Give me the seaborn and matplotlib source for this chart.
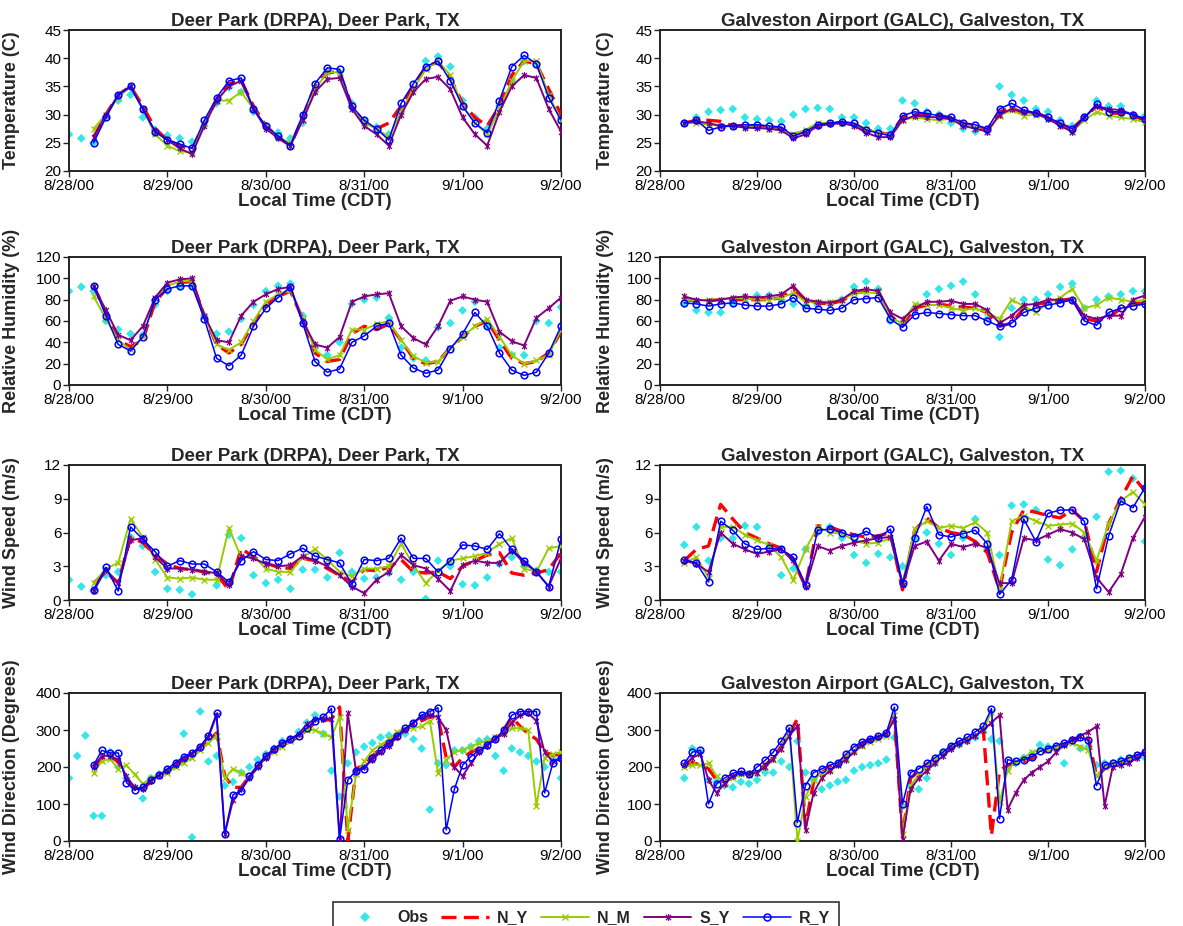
import numpy as np
import matplotlib
matplotlib.use("Agg")
import matplotlib.pyplot as plt
from matplotlib.path import Path
from matplotlib.lines import Line2D
import seaborn as sns

nan = np.nan

# ---------------- data ----------------
hours3 = list(range(0, 121, 3))   # hours after 8/28/00 00:00 (3-hourly)
hours2 = list(range(0, 121, 2))   # 2-hourly (wind direction)
day_ticks = [0, 24, 48, 72, 96, 120]
day_labels = ["8/28/00", "8/29/00", "8/30/00", "8/31/00", "9/1/00", "9/2/00"]
series_names = ["Obs", "N_Y", "N_M", "S_Y", "R_Y"]

# Deer Park temperature (C)
drpa_t_obs = [26.5,25.8,25.0,29.5,32.5,33.5,29.5,27.3,26.3,25.8, 25.2,28.0,32.0,34.8,34.0,30.5,28.0,26.8,25.8,28.5, 34.0,37.5,37.5,32.0,29.0,27.8,26.5,30.5,34.5,39.5, 40.3,38.5,32.5,29.5,27.5,31.5,36.0,39.5,39.0,34.0, 29.5]
drpa_t_ny = [nan,nan,26.0,30.0,33.5,35.0,31.5,27.5,25.5,24.5, 23.8,28.5,32.5,35.5,36.0,31.5,28.0,26.0,24.5,29.5, 35.0,37.5,37.5,31.5,28.5,27.5,28.5,31.5,35.0,38.5, 39.3,36.5,32.0,29.5,28.0,31.5,37.0,39.5,39.0,34.5, 30.0]
drpa_t_nm = [nan,nan,27.5,30.0,33.0,35.0,31.0,26.5,24.5,23.5, 23.3,28.5,32.5,32.5,34.0,31.0,28.0,26.0,25.0,29.0, 34.5,37.5,37.5,31.0,28.5,27.5,26.0,30.5,34.5,38.0, 39.5,37.0,31.5,28.5,26.5,31.0,36.0,39.5,39.5,33.5, 29.0]
drpa_t_sy = [nan,nan,26.0,30.0,33.5,35.0,31.0,27.0,25.5,24.0, 23.0,28.0,32.5,35.0,36.0,31.0,27.5,25.8,24.5,29.0, 34.0,36.3,36.5,31.0,28.0,26.5,24.5,30.0,34.0,36.3, 36.7,34.5,29.5,26.5,24.5,30.5,35.0,37.0,36.5,31.0, 27.0]
drpa_t_ry = [nan,nan,25.0,29.5,33.5,35.0,31.0,27.0,25.5,24.8, 24.0,29.0,33.0,36.0,36.5,31.0,28.0,26.2,24.5,30.0, 35.5,38.3,38.0,31.5,29.0,27.5,25.5,32.0,35.5,38.5, 39.5,36.0,31.5,28.5,26.8,32.5,38.5,40.5,39.0,33.0, 29.0]

# Galveston temperature (C)
galc_t_obs = [nan,nan,28.5,29.5,30.5,30.8,31.0,29.5,29.2,29.0, 28.8,30.0,31.0,31.2,31.0,29.5,29.5,28.5,27.5,27.5, 32.5,32.0,30.5,30.0,28.5,27.5,27.0,27.0,35.0,33.5, 32.5,31.0,30.5,29.0,28.0,29.5,32.5,31.5,31.5,30.0, 29.8]
galc_t_ny = [nan,nan,28.5,29.0,29.0,28.8,28.0,28.0,28.0,27.8, 27.5,26.5,27.0,28.2,28.5,28.6,28.3,27.3,26.8,26.5, 29.5,30.0,30.0,29.8,29.5,28.5,28.0,27.3,30.5,31.2, 30.2,30.3,29.5,28.3,27.5,29.5,31.5,30.3,30.2,29.8, 29.0]
galc_t_nm = [nan,nan,28.5,28.5,28.2,28.0,28.0,27.8,27.8,27.5, 27.3,26.5,27.3,28.5,28.5,28.5,28.2,27.5,26.8,26.5, 29.0,29.5,29.2,29.0,29.3,28.3,27.7,27.0,29.8,30.8, 29.8,30.0,29.3,28.0,27.0,29.0,30.5,29.8,29.5,29.2, 28.6]
galc_t_sy = [nan,nan,28.5,28.8,28.5,28.0,28.0,27.7,27.6,27.5, 27.2,25.8,26.5,28.0,28.3,28.5,28.0,26.8,26.0,26.0, 29.0,29.8,29.6,29.5,29.2,28.0,27.5,27.0,30.0,31.0, 30.5,30.2,29.3,28.0,27.0,29.5,31.5,31.0,30.8,30.0, 29.0]
galc_t_ry = [nan,nan,28.5,29.0,27.2,27.8,28.0,28.2,28.2,28.0, 27.8,26.2,27.0,28.2,28.5,28.7,28.5,27.3,26.7,26.3, 29.8,30.5,30.2,29.8,29.5,28.5,28.2,27.5,31.0,32.0, 30.8,30.3,29.5,28.5,27.5,29.5,31.8,30.5,30.5,30.0, 29.3]

# Deer Park relative humidity (%)
drpa_rh_obs = [88,92,88,60,52,48,47,75,88,92, 93,65,48,50,62,75,88,93,95,65, 35,28,40,76,80,82,63,35,25,23, 54,58,70,78,55,35,28,28,60,58, 73]
drpa_rh_ny = [nan,nan,93,68,42,36,42,78,91,96, 97,65,38,30,38,58,75,83,88,62, 30,22,24,48,55,52,57,42,25,20, 22,35,45,55,60,42,25,20,22,30, 50]
drpa_rh_nm = [nan,nan,83,62,42,33,45,82,93,97, 98,65,38,33,40,60,78,85,89,62, 33,24,28,52,52,57,60,42,27,21, 22,35,45,55,62,45,28,20,23,28, 52]
drpa_rh_sy = [nan,nan,93,70,47,42,55,82,96,99, 100,65,42,40,65,78,85,90,92,60, 38,35,45,78,83,85,86,55,44,38, 55,79,83,80,78,50,41,37,63,72, 82]
drpa_rh_ry = [nan,nan,93,65,38,32,45,80,90,93, 93,62,25,18,28,55,72,82,92,58, 22,12,15,40,46,55,58,28,16,11, 14,34,48,68,55,30,14,9,12,30, 55]

# Galveston relative humidity (%)
galc_rh_obs = [nan,nan,76,70,68,68,76,82,84,84, 80,76,74,75,76,80,92,97,90,60, 58,70,85,90,93,97,85,62,45,72, 80,80,85,92,95,72,80,83,85,88, 88]
galc_rh_ny = [nan,nan,80,79,79,80,80,80,80,80, 82,90,80,77,76,79,86,88,88,65, 56,72,75,76,74,73,72,68,55,58, 72,76,77,79,81,62,60,63,72,76, 77]
galc_rh_nm = [nan,nan,80,79,80,80,82,81,80,80, 82,86,78,78,78,80,86,87,86,63, 58,76,75,75,72,70,72,68,62,80, 74,68,77,82,90,72,75,82,80,78, 80]
galc_rh_sy = [nan,nan,83,80,79,80,82,83,82,83, 85,93,80,78,77,80,88,90,88,68, 62,72,78,78,79,76,76,70,58,65, 75,76,80,80,80,65,62,65,65,80, 84]
galc_rh_ry = [nan,nan,77,76,74,76,77,75,74,74, 76,82,72,71,70,72,80,81,82,62, 54,66,68,67,66,65,65,60,55,58, 68,72,75,77,80,60,56,68,72,74, 76]

# Deer Park wind speed (m/s)
drpa_ws_obs = [1.8,1.2,0.8,2.2,2.5,5.6,4.8,2.5,1.0,0.9, 0.5,2.5,1.3,5.8,5.5,2.2,1.5,1.8,1.0,2.7, 2.7,2.0,4.2,2.5,1.9,2.0,2.4,1.8,2.5,0.1, 3.5,3.0,1.4,1.3,2.0,3.2,3.8,3.0,2.6,2.5, 2.5]
drpa_ws_ny = [nan,nan,1.5,2.5,1.5,5.6,5.1,4.0,3.2,2.8, 2.7,2.5,2.3,0.9,4.6,3.8,3.3,2.9,2.8,3.7, 3.5,2.8,2.2,1.6,2.7,2.6,2.9,3.6,2.5,2.4, 2.5,1.9,3.0,3.5,4.0,4.2,2.4,2.2,2.4,2.7, 4.2]
drpa_ws_nm = [nan,nan,1.5,2.8,3.3,7.2,5.6,3.6,2.0,1.9, 2.0,1.8,1.8,6.4,3.8,3.9,2.8,2.5,2.5,3.8, 4.5,3.6,2.5,2.1,2.8,2.8,3.0,5.0,3.1,1.5, 2.6,3.5,3.7,3.9,4.2,5.0,5.5,2.8,2.5,4.6, 4.8]
drpa_ws_sy = [nan,nan,0.8,2.7,1.5,5.3,5.5,3.8,2.8,2.8, 2.7,2.5,2.4,1.3,3.9,3.7,3.2,3.0,3.1,3.9, 3.5,3.0,2.2,1.2,0.6,1.8,2.5,4.0,3.1,2.8, 1.9,0.8,3.1,3.5,3.3,3.3,4.4,3.3,2.5,1.2, 3.7]
drpa_ws_ry = [nan,nan,0.9,2.9,0.8,6.5,5.4,4.3,3.0,3.5, 3.2,3.2,2.5,1.6,3.5,4.3,3.6,3.5,4.1,4.6, 3.9,3.6,3.3,1.4,3.6,3.5,3.7,5.5,3.7,3.7, 2.5,3.5,4.9,4.8,4.5,5.9,4.5,3.5,2.5,1.2, 5.4]

# Galveston wind speed (m/s)
galc_ws_obs = [nan,nan,4.9,6.5,3.5,5.5,5.5,6.6,6.5,4.5, 2.2,2.8,4.5,6.0,6.5,5.5,4.0,3.3,4.1,3.8, 3.0,5.5,6.0,5.0,4.0,5.5,7.2,4.5,4.0,8.4, 8.5,8.0,3.6,3.1,4.5,5.5,7.4,11.4,11.5,10.8, 5.2]
galc_ws_ny = [nan,nan,3.5,4.5,4.8,8.5,7.2,6.0,5.5,5.0, 4.6,3.5,1.2,6.6,6.5,6.1,5.8,5.6,5.7,6.0, 0.9,6.2,7.3,6.4,6.0,5.8,5.2,4.2,0.9,6.0, 8.0,7.8,7.5,7.3,8.0,7.0,2.5,6.8,9.0,11.0, 9.7]
galc_ws_nm = [nan,nan,3.3,3.8,2.0,6.5,6.5,5.8,5.3,4.9, 3.8,1.8,4.5,6.5,6.0,5.9,5.3,5.0,5.1,5.5, 1.5,6.3,7.0,6.4,6.6,6.4,6.9,6.0,1.0,7.0, 7.5,7.0,6.6,6.7,6.8,6.0,3.5,6.8,8.8,9.6, 8.5]
galc_ws_sy = [nan,nan,3.5,3.2,2.5,6.0,5.0,4.5,4.1,4.3, 4.5,3.6,1.2,4.8,4.4,4.8,5.1,5.3,5.5,5.6, 1.3,4.8,5.2,3.5,5.0,4.7,5.0,4.6,1.5,1.5, 5.5,5.3,5.8,6.3,6.0,5.4,2.0,0.7,2.3,5.5, 7.4]
galc_ws_ry = [nan,nan,3.6,3.3,1.6,7.0,6.2,5.0,4.5,4.6, 4.5,3.8,1.3,6.2,6.3,6.0,5.6,6.1,5.5,6.3, 1.5,5.5,8.3,5.8,5.6,5.9,6.2,5.0,0.5,1.8, 7.2,5.2,7.7,8.0,8.0,7.0,1.0,5.7,8.8,8.2, 10.0]

# Deer Park wind direction (degrees), 2-hourly
drpa_wd_obs = [170,230,285,68,68,240,200,170,145,115, 170,180,190,205,290,10,350,215,230,150, 160,185,200,220,235,250,270,275,295,320, 340,290,190,120,210,240,255,265,280,285, 285,290,275,250,85,210,205,245,245,255, 270,275,230,190,250,240,230,215,200,220, 170]
drpa_wd_ny = [nan,nan,nan,200,225,228,215,170,140,142, 160,175,190,205,220,235,250,270,292,175, 145,145,175,200,228,245,258,270,282,300, 320,325,330,362,0,195,205,230,250,265, 285,300,315,325,335,335,225,200,225,240, 250,262,280,300,335,310,290,275,240,232, 235]
drpa_wd_nm = [nan,nan,nan,185,215,222,195,205,180,155, 170,175,185,200,212,225,245,265,285,170, 195,185,175,205,230,240,255,270,285,300, 300,290,280,335,30,180,215,245,260,275, 295,305,305,310,325,185,220,240,245,255, 265,270,280,295,305,305,300,95,225,235, 240]
drpa_wd_sy = [nan,nan,nan,200,230,230,220,175,145,140, 162,178,190,205,222,235,255,280,340,20, 110,140,170,200,225,245,262,275,290,315, 330,330,330,5,345,190,200,220,240,258, 280,300,320,335,340,335,300,200,175,210, 240,258,275,290,320,340,345,325,240,215, 225]
drpa_wd_ry = [nan,nan,nan,205,245,238,238,158,138,145, 165,178,195,212,228,238,255,285,345,20, 125,135,175,205,230,250,265,275,285,305, 325,335,358,5,165,190,195,225,245,265, 285,305,320,340,350,360,30,140,205,228, 245,260,275,300,340,350,350,350,130,210, 225]

# Galveston wind direction (degrees), 2-hourly
galc_wd_obs = [nan,nan,nan,170,250,240,165,160,150,145, 160,155,165,185,185,215,200,270,185,165, 140,150,160,165,190,200,205,210,220,280, 95,150,140,170,210,240,250,260,270,280, 295,275,270,200,210,225,235,260,255,250, 210,270,250,255,205,210,210,220,215,225, 225]
galc_wd_ny = [nan,nan,nan,205,212,205,195,165,160,175, 185,180,190,205,225,255,290,330,40,160, 185,200,210,225,245,262,272,280,290,335, 15,170,190,205,220,235,250,265,275,285, 300,15,190,205,210,215,222,235,245,255, 262,270,275,278,175,195,205,212,222,230, 240]
galc_wd_nm = [nan,nan,nan,200,205,205,210,175,160,170, 180,178,185,200,220,250,305,0,120,165, 185,195,205,225,245,258,268,275,285,340, 20,150,180,200,220,240,258,265,275,285, 300,350,105,190,215,225,240,245,245,252, 260,265,255,245,175,200,210,215,225,232, 240]
galc_wd_sy = [nan,nan,nan,205,225,235,165,130,155,175, 185,180,185,200,222,250,285,310,30,130, 170,190,205,220,240,260,272,280,290,330, 5,140,170,190,210,230,250,262,270,285, 300,320,340,85,130,165,185,200,215,240, 260,275,285,295,310,95,200,205,210,225, 238]
galc_wd_ry = [nan,nan,nan,210,240,245,100,155,170,183, 188,180,200,218,240,270,305,50,150,185, 195,205,212,235,255,268,277,283,292,362, 100,185,195,210,225,240,258,270,280,295, 310,358,60,220,215,220,228,242,250,258, 265,272,280,272,150,205,210,215,225,233, 240]

title_drpa = "Deer Park (DRPA), Deer Park, TX"
title_galc = "Galveston Airport (GALC), Galveston, TX"
xlabel_text = "Local Time (CDT)"

# ---------------- styling ----------------
sns.set_style("ticks")
plt.rcParams["font.family"] = ["Liberation Sans", "DejaVu Sans"]

star = Path([(-1, -1), (1, 1), (-1, 1), (1, -1), (0, -1.35), (0, 1.35)],
            [Path.MOVETO, Path.LINETO, Path.MOVETO, Path.LINETO, Path.MOVETO, Path.LINETO])

c_obs, c_ny, c_nm, c_sy, c_ry = "#33E6E8", "#FF0000", "#99CC00", "#800080", "#0000FF"
styles = {
    "N_Y": dict(color=c_ny, linestyle=(0, (4.5, 2.2)), linewidth=2.4),
    "N_M": dict(color=c_nm, linewidth=1.4, marker="x", markersize=3.8,
                markeredgewidth=1.0, markeredgecolor=c_nm),
    "S_Y": dict(color=c_sy, linewidth=1.4, marker=star, markersize=4.8,
                markeredgewidth=0.9, markeredgecolor=c_sy),
    "R_Y": dict(color=c_ry, linewidth=1.1, marker="o", markersize=4.8,
                markerfacecolor="none", markeredgewidth=1.1, markeredgecolor=c_ry),
}

fig = plt.figure(figsize=(11.83, 9.26), dpi=100)

W, H = 1183.0, 926.0
col_x = [(69, 561), (660, 1145)]
row_y = [(30, 171), (257, 385), (465, 600), (693, 841)]

panels = [
    [(hours3, drpa_t_obs, drpa_t_ny, drpa_t_nm, drpa_t_sy, drpa_t_ry, (20, 45), range(20, 46, 5), "Temperature (C)", title_drpa),
     (hours3, galc_t_obs, galc_t_ny, galc_t_nm, galc_t_sy, galc_t_ry, (20, 45), range(20, 46, 5), "Temperature (C)", title_galc)],
    [(hours3, drpa_rh_obs, drpa_rh_ny, drpa_rh_nm, drpa_rh_sy, drpa_rh_ry, (0, 120), range(0, 121, 20), "Relative Humidity (%)", title_drpa),
     (hours3, galc_rh_obs, galc_rh_ny, galc_rh_nm, galc_rh_sy, galc_rh_ry, (0, 120), range(0, 121, 20), "Relative Humidity (%)", title_galc)],
    [(hours3, drpa_ws_obs, drpa_ws_ny, drpa_ws_nm, drpa_ws_sy, drpa_ws_ry, (0, 12), range(0, 13, 3), "Wind Speed (m/s)", title_drpa),
     (hours3, galc_ws_obs, galc_ws_ny, galc_ws_nm, galc_ws_sy, galc_ws_ry, (0, 12), range(0, 13, 3), "Wind Speed (m/s)", title_galc)],
    [(hours2, drpa_wd_obs, drpa_wd_ny, drpa_wd_nm, drpa_wd_sy, drpa_wd_ry, (0, 400), range(0, 401, 100), "Wind Direction (Degrees)", title_drpa),
     (hours2, galc_wd_obs, galc_wd_ny, galc_wd_nm, galc_wd_sy, galc_wd_ry, (0, 400), range(0, 401, 100), "Wind Direction (Degrees)", title_galc)],
]

for r, row in enumerate(panels):
    for c, spec in enumerate(row):
        hrs, obs, ny, nm, sy, ry, ylim, yticks, ylabel, title = spec
        x0, x1 = col_x[c]
        t, b = row_y[r]
        ax = fig.add_axes([x0 / W, 1 - b / H, (x1 - x0) / W, (b - t) / H])
        obs_arr = np.array(obs, dtype=float)
        ok = ~np.isnan(obs_arr)
        sns.scatterplot(x=np.array(hrs)[ok], y=obs_arr[ok], ax=ax, color=c_obs,
                        marker="D", s=20, edgecolor="none", linewidth=0, zorder=2)
        for name, vals in zip(series_names[1:], [ny, nm, sy, ry]):
            sns.lineplot(x=hrs, y=vals, ax=ax, estimator=None, sort=False,
                         zorder=3, **styles[name])
        ax.set_xlim(0, 120)
        ax.set_ylim(*ylim)
        ax.set_yticks(list(yticks))
        ax.set_xticks(day_ticks)
        ax.set_xticklabels(day_labels)
        ax.set_title(title, fontsize=13.5, fontweight="bold", pad=3)
        ax.set_xlabel(xlabel_text, fontsize=13.5, fontweight="bold", labelpad=0.5)
        ax.set_ylabel(ylabel, fontsize=13, fontweight="bold")
        ax.yaxis.set_label_coords(-0.10 if c == 0 else -0.095, 0.5)
        ax.tick_params(direction="out", length=4, width=1, labelsize=11, pad=1.5,
                       colors="#222222", labelcolor="black")
        for s in ax.spines.values():
            s.set_visible(True)
            s.set_linewidth(1.4)
            s.set_color("#222222")
        ax.set_facecolor("white")

handles = [
    Line2D([], [], linestyle="none", marker="D", color=c_obs, markersize=5, markeredgewidth=0),
    Line2D([], [], color=c_ny, linestyle=(0, (4.5, 2.2)), linewidth=2.4),
    Line2D([], [], color=c_nm, linewidth=1.4, marker="x", markersize=4, markeredgewidth=1.0),
    Line2D([], [], color=c_sy, linewidth=1.4, marker=star, markersize=5, markeredgewidth=0.9),
    Line2D([], [], color=c_ry, linewidth=1.1, marker="o", markersize=5, markerfacecolor="none", markeredgewidth=1.1),
]
leg = fig.legend(handles, series_names, loc="upper center", bbox_to_anchor=(0.495, 0.035),
                 ncol=5, frameon=True, fancybox=False, edgecolor="black",
                 prop={"weight": "bold", "size": 11.5}, handlelength=3.0,
                 columnspacing=0.8, handletextpad=0.5, borderpad=0.55)
leg.get_frame().set_linewidth(1.2)

fig.savefig("out.png", dpi=100, facecolor="white")
